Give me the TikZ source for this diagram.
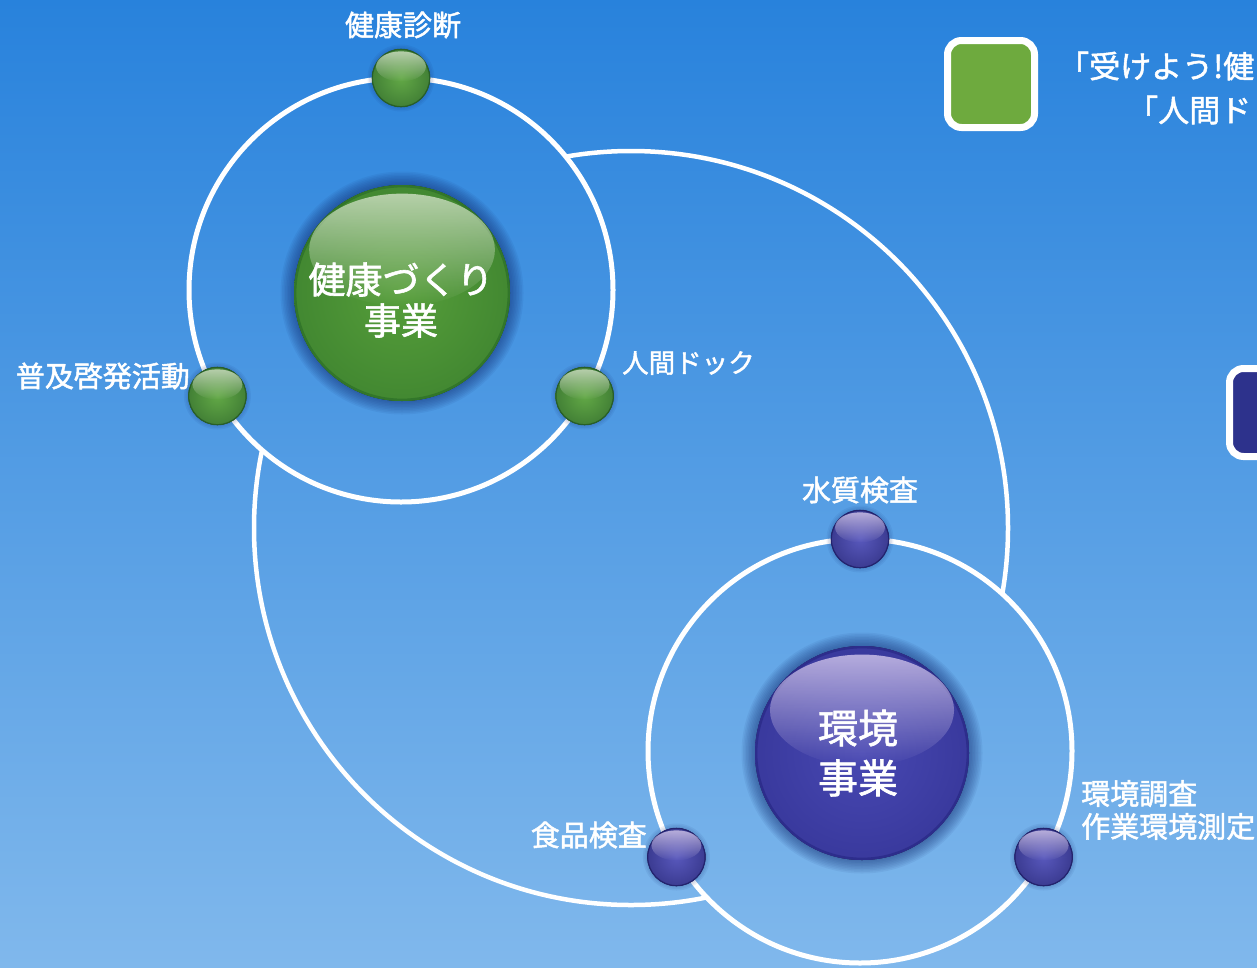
\documentclass[tikz,border=0pt]{standalone}
\usepackage{fontspec}
\newfontfamily\jp[FakeBold=1.6]{Noto Sans CJK JP}
\usetikzlibrary{fadings,calc}
\definecolor{bgtop}{RGB}{40,130,220}
\definecolor{bgbot}{RGB}{128,184,236}
\definecolor{gmain}{RGB}{86,158,58}
\definecolor{grim}{RGB}{50,118,42}
\definecolor{glight}{RGB}{225,235,215}
\definecolor{bmain}{RGB}{72,72,178}
\definecolor{brim}{RGB}{45,45,140}
\definecolor{blight}{RGB}{228,215,245}
\definecolor{sgmain}{RGB}{98,168,70}
\definecolor{sbmain}{RGB}{88,88,188}
\definecolor{sgrim}{RGB}{40,95,40}
\definecolor{sbrim}{RGB}{35,35,110}
\definecolor{glowc}{RGB}{15,40,110}
\definecolor{legg}{RGB}{110,170,62}
\definecolor{legb}{RGB}{45,50,140}
\tikzfading[name=hlfade, top color=transparent!15, middle color=transparent!75, bottom color=transparent!100]
\newcommand\sphere[6]{%
  \foreach \k in {1,...,#6}{\fill[glowc, opacity=0.065] (#1) circle[radius={(#2+\k*1.5)*1pt}];}
  \fill[shading=radial, inner color=#3, outer color=#4!55!#3] (#1) circle[radius=#2pt];
  \draw[#4, line width={max(1.2,#2*0.022)*1pt}] (#1) circle[radius={(#2-#2*0.011)*1pt}];
  \fill[#5, path fading=hlfade, fill opacity=0.85] ($(#1)+(0,#2*0.40)$) ellipse[x radius={#2*0.86*1pt}, y radius={#2*0.52*1pt}];
}
\begin{document}
\begin{tikzpicture}[x=1pt,y=1pt,
  orbit/.style={draw=white, line width=5pt},
  link/.style={draw=white, line width=4.5pt},
  lbl/.style={text=white, inner sep=0pt, font=\jp\fontsize{29}{34}\selectfont},
  bigtxt/.style={text=white, inner sep=0pt, align=center},
  legtxt/.style={text=white, inner sep=0pt, anchor=west, font=\jp\fontsize{31}{34}\selectfont},
  legbox/.style={draw=white, line width=7pt, rounded corners=14pt}]
\useasboundingbox (0,-967) rectangle (1257,0);
\clip (0,-967) rectangle (1257,0);
\shade[top color=bgtop, bottom color=bgbot] (0,-967) rectangle (1257,0);
% centres
\coordinate (gc) at (401,-290);
\coordinate (bc) at (860,-751);
\coordinate (cc) at (631,-528);
\coordinate (g1) at ($(gc)+(90:212pt)$);
\coordinate (g2) at ($(gc)+(210:212pt)$);
\coordinate (g3) at ($(gc)+(330:212pt)$);
\coordinate (b1) at ($(bc)+(90:212pt)$);
\coordinate (b2) at ($(bc)+(210:212pt)$);
\coordinate (b3) at ($(bc)+(330:212pt)$);
\coordinate (gball) at (402,-293);
\coordinate (bball) at (862,-753);
% big linking circle, outside both orbits
\begin{scope}
\clip (gc) circle[radius=212pt] (-200,-1200) rectangle (1500,200);
\clip (bc) circle[radius=212pt] (-200,-1200) rectangle (1500,200);
\draw[link] (cc) circle[radius=377pt];
\end{scope}
% orbits
\draw[orbit] (gc) circle[radius=212pt];
\draw[orbit] (bc) circle[radius=212pt];
% big balls
\sphere{gball}{108}{gmain}{grim}{glight}{9}
\sphere{bball}{107}{bmain}{brim}{blight}{9}
% small balls
\sphere{g1}{29}{sgmain}{sgrim}{glight}{3}
\sphere{g2}{29}{sgmain}{sgrim}{glight}{3}
\sphere{g3}{29}{sgmain}{sgrim}{glight}{3}
\sphere{b1}{29}{sbmain}{sbrim}{blight}{3}
\sphere{b2}{29}{sbmain}{sbrim}{blight}{3}
\sphere{b3}{29}{sbmain}{sbrim}{blight}{3}
% ball texts
\node[bigtxt, font=\jp\fontsize{37}{41}\selectfont] (gtxt) at (401,-300) {健康づくり\\事業};
\node[bigtxt, font=\jp\fontsize{40}{50}\selectfont] (btxt) at (858,-753) {環境\\事業};
% labels
\node[lbl] (t1) at (403,-25) {健康診断};
\node[lbl, anchor=east] (t2) at (190,-376) {普及啓発活動};
\node[lbl, anchor=west, font=\jp\fontsize{26.5}{34}\selectfont] (t3) at (622,-363) {人間ドック};
\node[lbl] (t4) at (860,-490) {水質検査};
\node[lbl, anchor=east] (t5) at (647,-835) {食品検査};
\node[lbl, anchor=west, align=left, font=\jp\fontsize{29}{33}\selectfont] (t6) at (1081,-810) {環境調査\\作業環境測定};
% legend
\draw[legbox, fill=legg] (947.5,-127.5) rectangle (1034.5,-40.5);
\draw[legbox, fill=legb] (1229.5,-456.5) rectangle (1310,-368.5);
\node[legtxt] (lt1) at (1058,-66) {「受けよう!健};
\node[legtxt] (lt2) at (1127,-110) {「人間ド};
\end{tikzpicture}
\end{document}
